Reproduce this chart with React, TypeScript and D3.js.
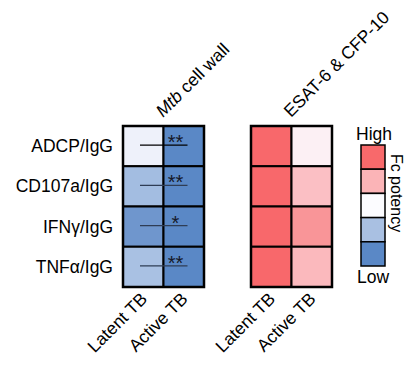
import React, { useEffect, useRef } from "react";
import * as d3 from "d3";

const rows = ["ADCP/IgG", "CD107a/IgG", "IFNγ/IgG", "TNFα/IgG"];
const groups = ["Latent TB", "Active TB"];

const cellWallColors = [
  ["#eef1fa", "#5a88c6"],
  ["#a3bde1", "#5a88c6"],
  ["#6f96cd", "#5a88c6"],
  ["#a9c1e3", "#5a88c6"],
];
const esatColors = [
  ["#f8686b", "#fcf0f4"],
  ["#f8686b", "#fbbfc4"],
  ["#f8686b", "#f99598"],
  ["#f8686b", "#fbb9bd"],
];
const stars = ["**", "**", "*", "**"];
const legendColors = ["#f8696b", "#fbb4b7", "#fcfcff", "#a9c0e2", "#5a88c6"];

const App = () => {
  const svgRef = useRef<SVGSVGElement>(null);
  const width = 408;
  const height = 369;

  useEffect(() => {
    const svg = d3.select(svgRef.current);
    svg.selectAll("*").remove();
    const font = "Liberation Sans, Arial, sans-serif";
    const fs = 17.5;

    const y = d3.scaleBand().domain(rows).range([126, 287]);

    const panel = (x0: number, colors: string[][], title: string, italicWord?: string) => {
      const x = d3.scaleBand().domain(groups).range([x0, x0 + 81]);
      const g = svg.append("g");
      rows.forEach((r, i) => {
        groups.forEach((c, j) => {
          g.append("rect")
            .attr("x", x(c)!)
            .attr("y", y(r)!)
            .attr("width", x.bandwidth())
            .attr("height", y.bandwidth())
            .attr("fill", colors[i][j])
            .attr("stroke", "#000")
            .attr("stroke-width", 2);
        });
      });
      g.append("rect")
        .attr("x", x0)
        .attr("y", 126)
        .attr("width", 81)
        .attr("height", 161)
        .attr("fill", "none")
        .attr("stroke", "#000")
        .attr("stroke-width", 2.5);

      // column labels
      groups.forEach((c) => {
        const cx = x(c)! + x.bandwidth() / 2 + 5;
        g.append("text")
          .attr("transform", `translate(${cx},${300}) rotate(-45)`)
          .attr("text-anchor", "end")
          .attr("font-family", font)
          .attr("font-size", fs)
          .text(c);
      });

      // title
      const t = g.append("text")
        .attr("transform", `translate(${x0 + 40},${118}) rotate(-45)`)
        .attr("font-family", font)
        .attr("font-size", fs);
      if (italicWord) {
        t.append("tspan").attr("font-style", "italic").text(italicWord);
        t.append("tspan").text(title);
      } else {
        t.text(title);
      }
      return x;
    };

    const xl = panel(123, cellWallColors, " cell wall", "Mtb");
    panel(251, esatColors, "ESAT-6 & CFP-10");

    // significance marks on the left panel
    rows.forEach((r, i) => {
      const ly = y(r)! + y.bandwidth() / 2 - 1;
      svg.append("line")
        .attr("x1", xl("Latent TB")! + 17)
        .attr("x2", xl("Active TB")! + 24)
        .attr("y1", ly)
        .attr("y2", ly)
        .attr("stroke", i === 0 ? "#000" : "#2f3d55")
        .attr("stroke-width", 1.3);
      svg.append("text")
        .attr("x", xl("Active TB")! + 12)
        .attr("y", ly + 4)
        .attr("text-anchor", "middle")
        .attr("font-family", font)
        .attr("font-size", 20)
        .attr("fill", "#15192a")
        .text(stars[i]);
    });

    // row labels
    rows.forEach((r) => {
      svg.append("text")
        .attr("x", 113)
        .attr("y", y(r)! + y.bandwidth() / 2 + 6)
        .attr("text-anchor", "end")
        .attr("font-family", font)
        .attr("font-size", fs)
        .text(r);
    });

    // legend
    const ly = d3.scaleBand().domain(d3.range(legendColors.length).map(String)).range([145, 266]);
    legendColors.forEach((c, i) => {
      svg.append("rect")
        .attr("x", 361)
        .attr("y", ly(String(i))!)
        .attr("width", 24)
        .attr("height", ly.bandwidth())
        .attr("fill", c)
        .attr("stroke", "#000")
        .attr("stroke-width", 1.5);
    });
    svg.append("text")
      .attr("x", 374)
      .attr("y", 140)
      .attr("text-anchor", "middle")
      .attr("font-family", font)
      .attr("font-size", fs)
      .text("High");
    svg.append("text")
      .attr("x", 373)
      .attr("y", 283)
      .attr("text-anchor", "middle")
      .attr("font-family", font)
      .attr("font-size", fs)
      .text("Low");
    svg.append("text")
      .attr("transform", `translate(391,${193}) rotate(90)`)
      .attr("text-anchor", "middle")
      .attr("font-family", font)
      .attr("font-size", 16)
      .text("Fc potency");
  }, []);

  return (
    <svg
      ref={svgRef}
      width={width}
      height={height}
      style={{ position: "absolute", left: 0, top: 0 }}
    />
  );
};

export default App;
